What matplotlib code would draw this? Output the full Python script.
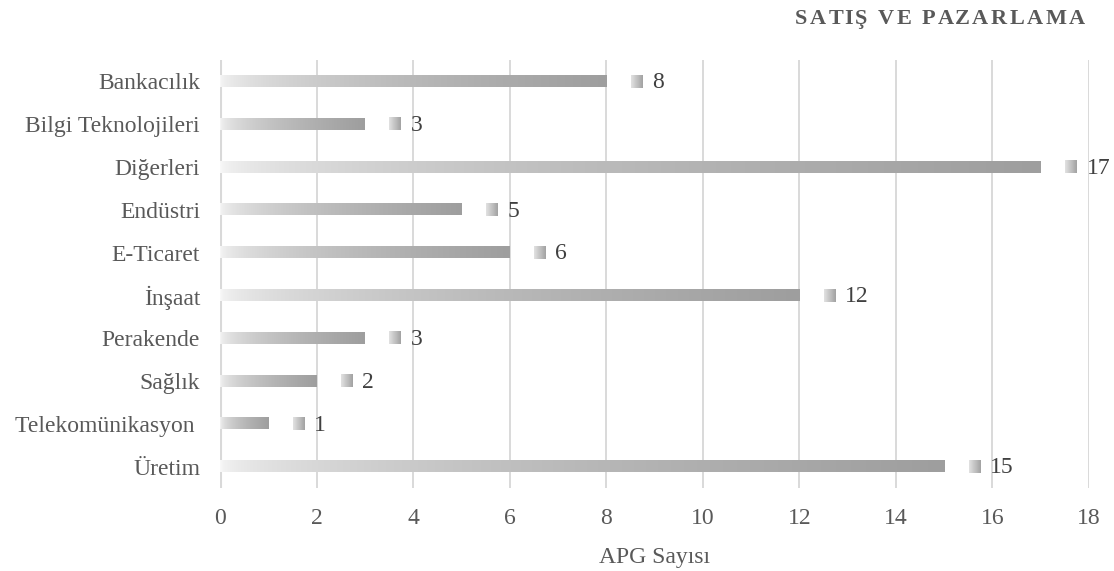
import numpy as np
import matplotlib
matplotlib.use("Agg")
import matplotlib.pyplot as plt
from matplotlib.offsetbox import OffsetImage, AnnotationBbox
from matplotlib.font_manager import FontProperties

# Data
categories = ["Bankacılık", "Bilgi Teknolojileri", "Diğerleri", "Endüstri", "E-Ticaret",
              "İnşaat", "Perakende", "Sağlık", "Telekomünikasyon ", "Üretim"]
counts = [8, 3, 17, 5, 6, 12, 3, 2, 1, 15]
x_ticks = [0, 2, 4, 6, 8, 10, 12, 14, 16, 18]
title = "SATIŞ VE PAZARLAMA"
x_label = "APG Sayısı"

FONT = "Liberation Serif"
TXT = "#595959"
LBL = "#404040"
GRID = "#d9d9d9"

plt.rcParams["font.family"] = [FONT, "DejaVu Serif"]
plt.rcParams["font.size"] = 17

W, H, DPI = 1114, 571, 100
fig = plt.figure(figsize=(W / DPI, H / DPI), dpi=DPI)
ax = fig.add_axes([220 / W, 1 - 488 / H, (1089 - 220) / W, (488 - 60) / H])

bar_h = 0.26


def bar_gradient(n=400):
    t = np.linspace(0, 1, n)
    g = (248 - 90 * np.sqrt(t)) / 255.0
    return np.dstack([g, g, g]).reshape(1, n, 3)


grad = bar_gradient()
for i, v in enumerate(counts):
    ax.imshow(grad, extent=(0, v, i + bar_h / 2, i - bar_h / 2), aspect="auto",
              interpolation="bilinear", zorder=3)

# legend-key squares next to data labels
kt = np.linspace(0, 1, 22)
kg = (225 - 62 * kt) / 255.0
key_img = np.tile(np.dstack([kg, kg, kg]), (24, 1, 1))
for i, v in enumerate(counts):
    ob = OffsetImage(key_img, zoom=0.37)
    ab = AnnotationBbox(ob, (v, i), xybox=(21.6, 0), xycoords="data",
                        boxcoords="offset points", frameon=False, pad=0, zorder=4)
    ax.add_artist(ab)
    ax.annotate(str(v), (v, i), xytext=(33, -1), textcoords="offset points",
                ha="left", va="center", color=LBL, fontsize=17, zorder=5)

ax.set_xlim(0, 18)
ax.set_ylim(9.5, -0.5)
ax.set_xticks(x_ticks)
ax.set_yticks(range(len(categories)))
ax.set_yticklabels(categories)
ax.tick_params(axis="both", length=0, colors=TXT, labelsize=17)
ax.tick_params(axis="y", pad=14.4)
ax.tick_params(axis="x", pad=14.5)
for s in ax.spines.values():
    s.set_visible(False)

for xt in x_ticks:
    ax.axvline(xt, color=GRID, lw=2.2 if xt == 0 else 1.4, zorder=1)

ax.set_xlabel(x_label, color=TXT, fontsize=17, labelpad=13)

# spaced bold title, right-aligned
fp = FontProperties(family=FONT, weight="bold", size=16)
renderer = fig.canvas.get_renderer()
spacing = 2.5
widths = [renderer.get_text_width_height_descent(title[:k], fp, ismath=False)[0] if k else 0.0
          for k in range(len(title) + 1)]
total = widths[-1] + spacing * (len(title) - 1)
x0 = 1085 - total
for k, ch in enumerate(title):
    fig.text((x0 + widths[k] + spacing * k) / W, (H - 24) / H, ch, fontproperties=fp,
             color=TXT, ha="left", va="baseline")

fig.savefig("out.png", dpi=DPI, facecolor="white")
